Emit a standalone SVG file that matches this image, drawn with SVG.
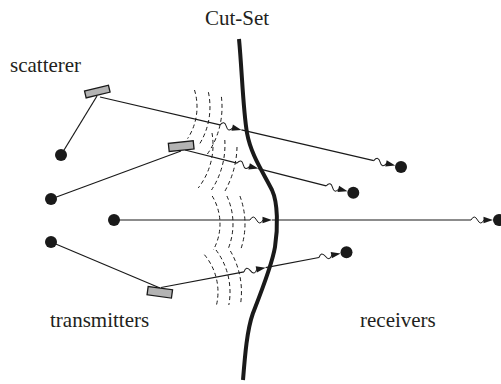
<svg xmlns="http://www.w3.org/2000/svg" width="501" height="384" viewBox="0 0 501 384">
<style>
.ln{fill:none;stroke:#1a1a1a;stroke-width:1.2}
.wv{fill:none;stroke:#1a1a1a;stroke-width:1;stroke-dasharray:4 3}
.dot{fill:#1a1a1a}
.sc{fill:#b3b3b3;stroke:#1a1a1a;stroke-width:1.3}
.cut{fill:none;stroke:#1a1a1a;stroke-width:4}
.lbl{font-family:'Liberation Serif','Times New Roman',serif;font-size:21px;fill:#231f20}
</style>
<defs>
<g id="w"><path d="M0,0 q3.25,-6 6.5,0 t6.5,0" fill="none" stroke="#1a1a1a" stroke-width="1"/><path d="M12.5,-3.2 L22,0 L12.5,3.2 z" fill="#1a1a1a"/></g>
</defs>
<rect width="501" height="384" fill="#ffffff"/>
<g id="waves">
<path class="wv" d="M194.5,90 A58,58 0 0 1 187.6,138.6"/>
<path class="wv" d="M208.4,92.2 A71,71 0 0 1 198.5,145.7"/>
<path class="wv" d="M221.4,96.9 A83,83 0 0 1 207,154.6"/>
<path class="wv" d="M212,133 A70,70 0 0 1 198.2,188"/>
<path class="wv" d="M224.8,140 A82,82 0 0 1 211.5,190"/>
<path class="wv" d="M237,147 A94,94 0 0 1 224.4,192"/>
<path class="wv" d="M212.2,196 A54,54 0 0 1 213.3,250"/>
<path class="wv" d="M226.9,196 A67,67 0 0 1 227.7,250"/>
<path class="wv" d="M239.9,196 A79,79 0 0 1 240.9,249"/>
<path class="wv" d="M204.4,254.7 A58,58 0 0 1 216.5,305"/>
<path class="wv" d="M216,250 A70,70 0 0 1 228.8,305"/>
<path class="wv" d="M230.4,251 A81.5,81.5 0 0 1 240.7,303"/>
</g>
<g id="connectors">
<path class="ln" d="M61,155 L97,96"/>
<path class="ln" d="M51,199 L181,151"/>
<path class="ln" d="M51,242 L160,288"/>
<path class="ln" d="M100,97 L220,124.9"/>
<use href="#w" transform="translate(220,124.9) rotate(13.09)"/>
<path class="ln" d="M241.4,129.9 L373.8,160.6"/>
<use href="#w" transform="translate(373.8,160.6) rotate(13.09)"/>
<path class="ln" d="M185,150 L237,163.2"/>
<use href="#w" transform="translate(237,163.2) rotate(14.24)"/>
<path class="ln" d="M258.3,168.6 L326.2,185.8"/>
<use href="#w" transform="translate(326.2,185.8) rotate(14.24)"/>
<path class="ln" d="M114,220 L250,220"/>
<use href="#w" transform="translate(250,220)"/>
<path class="ln" d="M272,220 L471,220"/>
<use href="#w" transform="translate(471,220)"/>
<path class="ln" d="M161,287.5 L244,271.8"/>
<use href="#w" transform="translate(244,271.8) rotate(-10.74)"/>
<path class="ln" d="M265.6,267.7 L319,257.5"/>
<use href="#w" transform="translate(319,257.5) rotate(-10.74)"/>
</g>
<g id="cutset"><path class="cut" d="M239,39 C242,70 243,110 247,133 C251,155 263,172 272,190 C278,203 278,228 275,247 C272,265 262,290 253,313 C247,330 245,355 243,380"/></g>
<g id="s1"><rect class="sc" x="-12.3" y="-3.5" width="24.6" height="7" transform="translate(97.3,91.6) rotate(-13.5)"/></g>
<g id="s2"><rect class="sc" x="-12.5" y="-4.1" width="25" height="8.2" transform="translate(181.2,146.2) rotate(-6)"/></g>
<g id="s3"><rect class="sc" x="-12.3" y="-4.2" width="24.6" height="8.4" transform="translate(159.8,292.3) rotate(7.7)"/></g>
<g id="tx1"><circle class="dot" cx="61" cy="155" r="6"/></g>
<g id="tx2"><circle class="dot" cx="51" cy="199" r="6"/></g>
<g id="tx3"><circle class="dot" cx="114" cy="220" r="6"/></g>
<g id="tx4"><circle class="dot" cx="51" cy="242" r="6"/></g>
<g id="rx1"><circle class="dot" cx="401" cy="167" r="6"/></g>
<g id="rx2"><circle class="dot" cx="353.3" cy="192.7" r="6"/></g>
<g id="rx3"><circle class="dot" cx="499" cy="220" r="6"/></g>
<g id="rx4"><circle class="dot" cx="346.5" cy="252.3" r="6"/></g>
<g id="labels">
<text class="lbl" x="205" y="25">Cut-Set</text>
<text class="lbl" x="10" y="72">scatterer</text>
<text class="lbl" x="50" y="327">transmitters</text>
<text class="lbl" x="360" y="327">receivers</text>
</g>
</svg>
